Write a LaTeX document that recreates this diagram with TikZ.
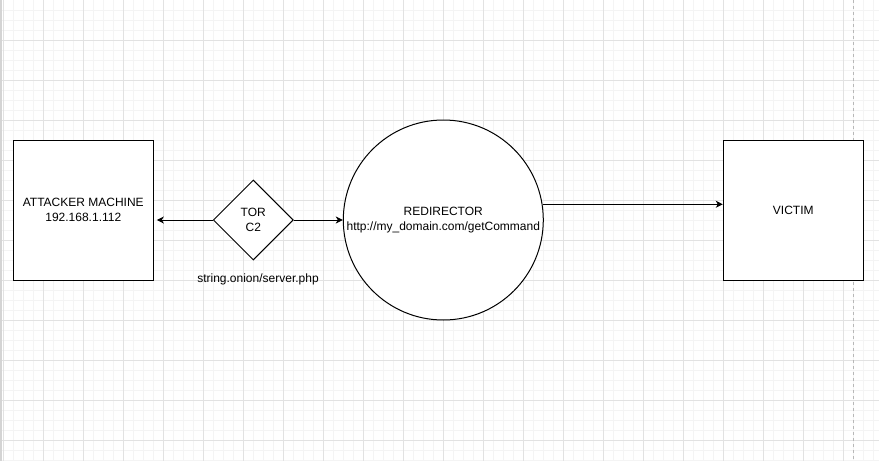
\documentclass[tikz,border=0pt]{standalone}
\usepackage{fontspec}
\setmainfont{Liberation Sans}
\usetikzlibrary{shapes.geometric,arrows.meta}
\definecolor{gridminor}{HTML}{F4F4F4}
\definecolor{gridmajor}{HTML}{E2E2E2}
\definecolor{pageedge}{HTML}{D4D4D4}
\definecolor{pagebreak}{HTML}{B8B8B8}
\tikzset{
  box/.style={draw=black, line width=1pt, fill=white, minimum width=140pt, minimum height=140pt, inner sep=0pt, align=center, font=\fontsize{12}{14.5}\selectfont},
  gate/.style={draw=black, line width=1pt, fill=white, diamond, minimum width=80pt, minimum height=80pt, inner sep=0pt, align=center, font=\fontsize{12}{14.5}\selectfont},
  hub/.style={draw=black, line width=1pt, fill=white, circle, minimum size=200pt, inner sep=0pt, align=center, font=\fontsize{12}{14.5}\selectfont},
  tag/.style={inner sep=0pt, font=\fontsize{12}{14.5}\selectfont},
  arr/.style={draw=black, line width=1pt, -{Stealth[length=7pt,width=7pt,inset=2pt]}},
}
\begin{document}
\begin{tikzpicture}[x=1pt,y=-1pt]
\useasboundingbox (0,0) rectangle (879,461);
\fill[white] (0,0) rectangle (879,461);
% minor grid
\foreach \i in {0,...,87} {\draw[gridminor, line width=0.8pt] ({3.3+10*\i},0) -- ({3.3+10*\i},461);}
\foreach \j in {1,...,46} {\draw[gridminor, line width=0.8pt] (0,{10*\j}) -- (879,{10*\j});}
% major grid
\foreach \i in {0,...,21} {\draw[gridmajor, line width=0.8pt] ({3.3+40*\i},0) -- ({3.3+40*\i},461);}
\foreach \j in {1,...,11} {\draw[gridmajor, line width=0.8pt] (0,{40*\j}) -- (879,{40*\j});}
% page edge and page break
\fill[pageedge] (0,0) rectangle (2.2,461);
\draw[pagebreak, line width=0.8pt, dash pattern=on 3pt off 3pt] (853.3,0) -- (853.3,461);
% nodes
\node[box] (att) at (83.3,210) {ATTACKER MACHINE\\192.168.1.112};
\node[gate] (tor) at (253.3,220) {TOR\\C2};
\node[hub] (red) at (443.3,220) {REDIRECTOR\\http://my\_domain.com/getCommand};
\node[box] (vic) at (793.3,210) {VICTIM};
\node[tag] (onion) at (258,279.5) {string.onion/server.php};
% connectors
\draw[arr, shorten >=3pt] (tor.west) -- (tor.west -| att.east);
\draw[arr] (tor.east) -- (red.west);
\draw[arr] (red.9.2) -- (red.9.2 -| vic.west);
\end{tikzpicture}
\end{document}
